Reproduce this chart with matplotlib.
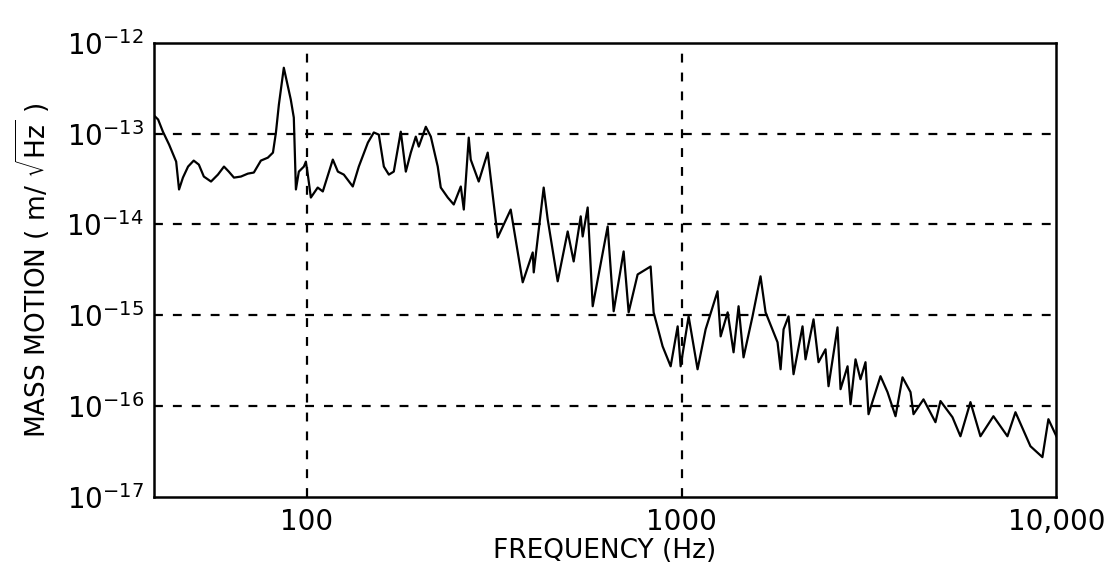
import numpy as np
import matplotlib
matplotlib.use("Agg")
import matplotlib.pyplot as plt
from matplotlib.ticker import FixedLocator, FixedFormatter, NullLocator

# values (Hz, m/sqrt(Hz))
freq = [39, 40.1, 41.3, 42.9, 44.8, 45.6, 46.7, 48.2, 49.9, 51.5,
        53.1, 55.5, 57.9, 60.1, 61.9, 63.9, 66.7, 69.6, 72.2, 75.4,
        78.7, 81.2, 82.7, 84.2, 86.8, 90.6, 92.3, 93.5, 95.2, 98.2,
        99.4, 100.6, 102.5, 106.9, 110.3, 117.3, 121.0, 125.5, 132.6, 137.6,
        145.5, 150.9, 155.6, 160.5, 165.5, 170.6, 178.1, 183.7, 189.4, 195.3,
        198.9, 207.7, 214.2, 223.5, 227.7, 237.7, 246.6, 257.5, 262.3, 270.4,
        273.7, 287.5, 303.8,
        323.1, 349.9, 376.7, 400.6, 403.1, 428.5, 439.2, 467.0, 496.6, 515.2,
        538.0, 544.5, 561.5, 579.1, 634.9, 658.7, 700.3, 722.2, 763.2, 826.6,
        842.0, 889.8, 934.9, 976.0, 994.0, 1044, 1103, 1159, 1247, 1271,
        1327, 1376, 1419, 1463, 1546, 1624, 1675, 1803, 1837, 1871,
        1929, 1989, 2102, 2141, 2249, 2319, 2421, 2466, 2606, 2655,
        2772, 2823, 2911, 3001, 3095, 3153, 3291, 3394, 3543, 3722,
        3885, 4081, 4157, 4420, 4757, 4906, 5281, 5546, 5898, 6271,
        6792, 7403, 7777, 8526, 9178, 9522, 10000]

motion = [1.6e-13, 1.43e-13, 1.05e-13, 7.57e-14, 4.92e-14, 2.43e-14, 3.28e-14, 4.34e-14, 5.05e-14, 4.56e-14,
          3.37e-14, 2.97e-14, 3.54e-14, 4.34e-14, 3.82e-14, 3.28e-14, 3.37e-14, 3.63e-14, 3.73e-14, 5.05e-14,
          5.44e-14, 6.18e-14, 1.03e-13, 2.08e-13, 5.31e-13, 2.37e-13, 1.50e-13, 2.43e-14, 3.82e-14, 4.34e-14,
          4.92e-14, 3.54e-14, 1.98e-14, 2.55e-14, 2.31e-14, 5.18e-14, 3.82e-14, 3.54e-14, 2.62e-14, 4.34e-14,
          7.96e-14, 1.03e-13, 9.75e-14, 4.34e-14, 3.54e-14, 3.82e-14, 1.05e-13, 3.82e-14, 6.18e-14, 9.27e-14,
          7.2e-14, 1.19e-13, 9.27e-14, 4.34e-14, 2.55e-14, 1.98e-14, 1.66e-14, 2.62e-14, 1.46e-14, 9.04e-14,
          5.18e-14, 2.97e-14, 6.18e-14,
          7.2e-15, 1.46e-14, 2.31e-15, 4.92e-15, 2.97e-15, 2.55e-14, 1.14e-14, 2.37e-15, 8.38e-15, 3.92e-15,
          1.23e-14, 7.38e-15, 1.54e-14, 1.26e-15, 9.51e-15, 1.11e-15, 5.05e-15, 1.08e-15, 2.82e-15, 3.45e-15,
          1.08e-15, 4.56e-16, 2.75e-16, 7.57e-16, 2.75e-16, 9.75e-16, 2.55e-16, 7.02e-16, 1.84e-15, 5.87e-16,
          1.08e-15, 3.92e-16, 1.26e-15, 3.45e-16, 9.75e-16, 2.69e-15, 1.08e-15, 5.05e-16, 2.55e-16, 7.02e-16,
          9.75e-16, 2.25e-16, 7.57e-16, 3.28e-16, 9.04e-16, 3.05e-16, 4.23e-16, 1.66e-16, 7.38e-16, 1.54e-16,
          2.75e-16, 1.05e-16, 3.28e-16, 1.98e-16, 3.05e-16, 8.17e-17, 1.43e-16, 2.14e-16, 1.43e-16, 7.76e-17,
          2.08e-16, 1.43e-16, 8.17e-17, 1.19e-16, 6.67e-17, 1.14e-16, 7.57e-17, 4.67e-17, 1.11e-16, 4.67e-17,
          7.76e-17, 4.67e-17, 8.59e-17, 3.63e-17, 2.75e-17, 7.2e-17, 4.67e-17]

x_ticks = [100, 1000, 10000]
x_labels = ["100", "1000", "10,000"]
y_ticks = [1e-17, 1e-16, 1e-15, 1e-14, 1e-13, 1e-12]
y_labels = [r"$10^{-17}$", r"$10^{-16}$", r"$10^{-15}$",
            r"$10^{-14}$", r"$10^{-13}$", r"$10^{-12}$"]

plt.rcParams["font.family"] = ["DejaVu Sans"]
plt.rcParams["mathtext.fontset"] = "dejavusans"

fig = plt.figure(figsize=(11.05, 5.78), dpi=100)
ax = fig.add_axes([0.139, 0.140, 0.817, 0.786])

ax.plot(freq, motion, color="black", lw=1.6, solid_joinstyle="round")

ax.set_xscale("log")
ax.set_yscale("log")
ax.set_xlim(39, 10000)
ax.set_ylim(1e-17, 1e-12)

# dashed decade grid (interior only)
for f in [100, 1000]:
    ax.axvline(f, color="black", lw=1.6, ls=(0, (4, 4.5)))
for v in [1e-13, 1e-14, 1e-15, 1e-16]:
    ax.axhline(v, color="black", lw=1.6, ls=(0, (4, 4.5)))

ax.xaxis.set_major_locator(FixedLocator(x_ticks))
ax.xaxis.set_major_formatter(FixedFormatter(x_labels))
ax.xaxis.set_minor_locator(NullLocator())
ax.yaxis.set_major_locator(FixedLocator(y_ticks))
ax.yaxis.set_major_formatter(FixedFormatter(y_labels))
ax.yaxis.set_minor_locator(NullLocator())
ax.tick_params(axis="x", length=0, labelsize=20, pad=8)
ax.tick_params(axis="y", length=0, labelsize=20, pad=7)

for s in ax.spines.values():
    s.set_linewidth(1.8)

ax.set_xlabel("FREQUENCY (Hz)", fontsize=19, labelpad=1)
ax.set_ylabel(r"MASS MOTION ( m/ $\sqrt{\mathrm{Hz}}$ )", fontsize=19, labelpad=10)

fig.savefig("out.png", dpi=100)
